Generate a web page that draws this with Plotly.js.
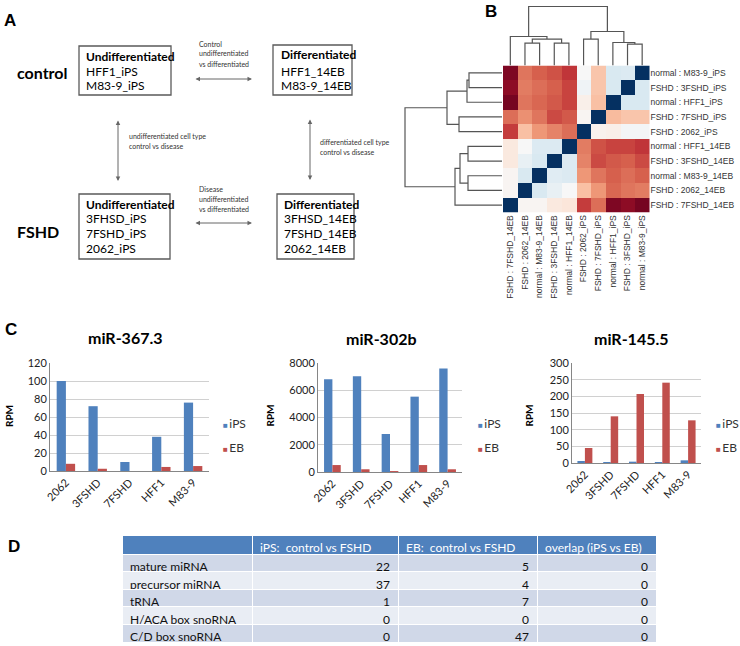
<!DOCTYPE html>
<html><head><meta charset="utf-8">
<script src="https://cdn.plot.ly/plotly-3.0.1.min.js"></script>
<style>html,body{margin:0;padding:0;background:#fff}#chart{width:740px;height:646px}</style>
</head><body><div id="chart"></div>
<script>
// ---------- DATA ----------
// Panel C
const samples = ['2062','3FSHD','7FSHD','HFF1','M83-9'];
const mir367_iPS = [100, 72, 10, 38, 76];
const mir367_EB  = [8, 2.5, 0, 4.5, 5.5];
const mir302_iPS = [6800, 7030, 2790, 5530, 7600];
const mir302_EB  = [510, 200, 70, 510, 200];
const mir145_iPS = [6, 3, 4, 3, 8];
const mir145_EB  = [45, 140, 207, 241, 128];
const chartTitles = ['miR-367.3','miR-302b','miR-145.5'];
const seriesNames = ['iPS','EB'];

// Panel B (distance heatmap, 0 = identical)
const hmCols = ['FSHD : 7FSHD_14EB','FSHD : 2062_14EB','normal : M83-9_14EB','FSHD : 3FSHD_14EB','normal : HFF1_14EB',
                'FSHD : 2062_iPS','FSHD : 7FSHD_iPS','normal : HFF1_iPS','FSHD : 3FSHD_iPS','normal : M83-9_iPS'];
const hmRows = ['normal : M83-9_iPS','FSHD : 3FSHD_iPS','normal : HFF1_iPS','FSHD : 7FSHD_iPS','FSHD : 2062_iPS',
                'normal : HFF1_14EB','FSHD : 3FSHD_14EB','normal : M83-9_14EB','FSHD : 2062_14EB','FSHD : 7FSHD_14EB'];
const hmRow0 = [0.97,0.77,0.80,0.82,0.86,0.50,0.64,0.42,0.43,0.00];
const hmRow1 = [0.95,0.76,0.78,0.80,0.84,0.48,0.64,0.42,0.00,0.42];
const hmRow2 = [0.98,0.77,0.79,0.81,0.84,0.53,0.65,0.00,0.42,0.42];
const hmRow3 = [0.78,0.73,0.77,0.83,0.81,0.51,0.00,0.66,0.64,0.64];
const hmRow4 = [0.85,0.65,0.72,0.75,0.78,0.00,0.52,0.53,0.49,0.49];
const hmRow5 = [0.55,0.50,0.43,0.43,0.00,0.76,0.82,0.84,0.84,0.86];
const hmRow6 = [0.55,0.46,0.42,0.00,0.43,0.75,0.83,0.81,0.80,0.83];
const hmRow7 = [0.51,0.42,0.00,0.44,0.43,0.72,0.77,0.80,0.78,0.80];
const hmRow8 = [0.51,0.00,0.42,0.46,0.50,0.65,0.72,0.79,0.77,0.76];
const hmRow9 = [0.00,0.51,0.51,0.55,0.56,0.85,0.78,0.97,0.95,0.98];
// dendrogram merges: [childA, childB, height]; number = leaf index, 'mK' = merge K
const colMerges = [[1,2,22.4],[3,4,22.4],['m0','m1',26.4],[0,'m2',29],[5,6,26.4],[8,9,21.4],[7,'m5',23],['m4','m6',34],['m3','m7',59]];
const rowMerges = [[0,1,33],['m0',2,35],[3,4,43],['m1','m2',55],[5,6,34],[7,8,34],['m4','m5',42],['m6',9,47],['m3','m7',97]];

// Panel D
const tableHeaders = ['', 'iPS:  control vs FSHD', 'EB:  control vs FSHD', 'overlap (iPS vs EB)'];
const tableRowLabels = ['mature miRNA','precursor miRNA','tRNA','H/ACA box snoRNA','C/D box snoRNA'];
const iPSCounts = [22, 37, 1, 0, 0];
const EBCounts = [5, 4, 7, 0, 47];
const overlapCounts = [0, 0, 0, 0, 0];

// Panel A
const groupLabels = ['control','FSHD'];
const ctrlUndiff = ['HFF1_iPS','M83-9_iPS'];
const ctrlDiff = ['HFF1_14EB','M83-9_14EB'];
const fshdUndiff = ['3FHSD_iPS','7FSHD_iPS','2062_iPS'];
const fshdDiff = ['3FHSD_14EB','7FSHD_14EB','2062_14EB'];
const cmpTopLines = ['Control','undifferentiated','vs differentiated'];
const cmpBottomLines = ['Disease','undifferentiated','vs differentiated'];
const cmpLeftLines = ['undifferentiated cell type','control vs disease'];
const cmpRightLines = ['differentiated cell type','control vs disease'];

// ---------- HELPERS ----------
const W = 740, H = 646;
const X = p => p / W, Y = p => 1 - p / H;
const FONT = 'Lato, "Open Sans", sans-serif';
const BLUE = '#4F81BD', RED = '#C0504D';

function dendro(merges) {
  const pos = {}, hgt = {};
  const P = c => typeof c === 'number' ? c : pos[c];
  const Hh = c => typeof c === 'number' ? 0 : hgt[c];
  const a = [], b = [];
  merges.forEach((m, k) => {
    const [ca, cb, h] = m;
    const pa = P(ca), pb = P(cb);
    a.push(pa, pa, pb, pb, null);
    b.push(Hh(ca), h, h, Hh(cb), null);
    pos['m' + k] = (pa + pb) / 2; hgt['m' + k] = h;
  });
  return {pos: a, h: b};
}

const traces = [];
const barSets = [[mir367_iPS, mir367_EB], [mir302_iPS, mir302_EB], [mir145_iPS, mir145_EB]];
barSets.forEach((s, i) => {
  const ax = i === 0 ? '' : String(i + 1);
  [BLUE, RED].forEach((c, j) => traces.push({
    type: 'bar', x: samples, y: s[j], name: seriesNames[j], marker: {color: c},
    xaxis: 'x' + ax, yaxis: 'y' + ax, showlegend: false, hoverinfo: 'x+y+name'
  }));
});

traces.push({
  type: 'heatmap', z: [hmRow0,hmRow1,hmRow2,hmRow3,hmRow4,hmRow5,hmRow6,hmRow7,hmRow8,hmRow9],
  x: hmCols, y: hmRows, xaxis: 'x4', yaxis: 'y4', zmin: 0, zmax: 1, showscale: false,
  colorscale: [[0,'#053061'],[0.1,'#2166AC'],[0.2,'#4393C3'],[0.3,'#92C5DE'],[0.4,'#D1E5F0'],[0.5,'#F7F7F7'],
               [0.6,'#FDDBC7'],[0.7,'#F4A582'],[0.8,'#D6604D'],[0.9,'#B2182B'],[1,'#67001F']]
});
const cd = dendro(colMerges), rd = dendro(rowMerges);
traces.push({type: 'scatter', mode: 'lines', x: cd.pos, y: cd.h, xaxis: 'x5', yaxis: 'y5',
  line: {color: '#555', width: 1.2}, showlegend: false, hoverinfo: 'skip'});
traces.push({type: 'scatter', mode: 'lines', x: rd.h, y: rd.pos, xaxis: 'x6', yaxis: 'y6',
  line: {color: '#555', width: 1.2}, showlegend: false, hoverinfo: 'skip'});

const fillCol = tableRowLabels.map((_, i) => i % 2 === 0 ? '#D0D8E8' : '#E9EDF4');
traces.push({
  type: 'table', domain: {x: [X(122), X(656)], y: [Y(642), Y(535)]},
  columnwidth: [130, 146, 139, 119],
  header: {values: tableHeaders, align: 'left', height: 19, fill: {color: BLUE},
    font: {family: FONT, size: 12, color: '#fff'}, line: {color: '#fff', width: 1}},
  cells: {values: [tableRowLabels, iPSCounts, EBCounts, overlapCounts], align: ['left','right','right','right'],
    height: 17.6, fill: {color: [fillCol, fillCol, fillCol, fillCol]},
    font: {family: FONT, size: 12, color: '#111'}, line: {color: '#fff', width: 1}}
});

// ---------- LAYOUT ----------
const tickF = {family: FONT, size: 11, color: '#222'};
function barX(d0, d1, anchor) {
  return {domain: [X(d0), X(d1)], anchor: anchor, type: 'category', showgrid: false, showline: true,
    linecolor: '#868686', linewidth: 1, tickangle: -45, tickfont: tickF, ticks: '', zeroline: false, fixedrange: true};
}
function barY(top, bottom, anchor, max, dtick) {
  return {domain: [Y(bottom), Y(top)], anchor: anchor, range: [0, max], dtick: dtick, showgrid: true,
    gridcolor: '#D0D0D0', gridwidth: 1, showline: true, linecolor: '#868686', linewidth: 1,
    zeroline: false, tickfont: tickF, ticks: '', fixedrange: true};
}
const hidden = {visible: false, showgrid: false, zeroline: false, fixedrange: true};
const hmTick = {family: '"Liberation Sans", Arial, sans-serif', size: 8.5, color: '#333'};

const annotations = [];
const shapes = [];
function txt(x, y, t, size, opts) {
  annotations.push(Object.assign({xref: 'paper', yref: 'paper', x: X(x), y: Y(y), text: t, showarrow: false,
    xanchor: 'left', yanchor: 'middle', font: {family: FONT, size: size, color: '#000'}}, opts || {}));
}
function arrow(x0, y0, x1, y1) {
  annotations.push({xref: 'paper', yref: 'paper', x: X(x1), y: Y(y1), ax: x0 - x1, ay: y0 - y1, axref: 'pixel', ayref: 'pixel',
    text: '', showarrow: true, arrowside: 'end+start', arrowhead: 2, startarrowhead: 2, arrowsize: 0.9, startarrowsize: 0.9,
    arrowwidth: 1, arrowcolor: '#666'});
}
function box(x0, y0, x1, y1) {
  shapes.push({type: 'rect', xref: 'paper', yref: 'paper', x0: X(x0), x1: X(x1), y0: Y(y1), y1: Y(y0),
    line: {color: '#5a5a5a', width: 1.3}, fillcolor: 'rgba(0,0,0,0)'});
}
const LET = {family: '"Liberation Sans", Arial, sans-serif', size: 17, color: '#000'};

// panel letters
txt(2, 20, '<b>A</b>', 17, {font: LET});
txt(483, 12, '<b>B</b>', 17, {font: LET});
txt(3, 329, '<b>C</b>', 17, {font: LET});
txt(6, 546, '<b>D</b>', 17, {font: LET});

// Panel A
txt(15, 73, '<b>' + groupLabels[0] + '</b>', 16);
txt(15, 232, '<b>' + groupLabels[1] + '</b>', 16);
box(79, 46, 171, 95); box(273, 45, 352, 95); box(79, 194, 170, 259); box(277, 194, 354, 259);
txt(84, 56, '<b>Undifferentiated</b>', 12);
ctrlUndiff.forEach((t, i) => txt(84, 71 + i * 14.7, t, 12));
txt(279, 55, '<b>Differentiated</b>', 12);
ctrlDiff.forEach((t, i) => txt(279, 71 + i * 14.7, t, 12));
txt(84, 204, '<b>Undifferentiated</b>', 12);
fshdUndiff.forEach((t, i) => txt(84, 219 + i * 14.7, t, 12));
txt(282, 204, '<b>Differentiated</b>', 12);
fshdDiff.forEach((t, i) => txt(282, 219 + i * 14.7, t, 12));
const small = (x, y, t) => txt(x, y, t, 7, {font: {family: FONT, size: 7, color: '#333'}});
cmpTopLines.forEach((t, i) => small(197, 43.5 + i * 10, t));
cmpBottomLines.forEach((t, i) => small(197, 189 + i * 10, t));
cmpLeftLines.forEach((t, i) => small(127, 136 + i * 10.5, t));
cmpRightLines.forEach((t, i) => small(318, 142 + i * 10, t));
arrow(194, 79, 252, 79);
arrow(194, 223, 252, 223);
arrow(118, 119, 118, 181);
arrow(310, 118, 310, 180);

// Panel C titles, RPM labels, legends
[[125, 337], [382, 339], [631.5, 338]].forEach((p, i) =>
  txt(p[0], p[1], '<b>' + chartTitles[i] + '</b>', 16, {xanchor: 'center'}));
[9, 269.5, 528.5].forEach(x => txt(x, 416, '<b>RPM</b>', 10, {xanchor: 'center', textangle: -90}));
[221, 475.5, 714].forEach(x => {
  txt(x, 423, '<span style="color:' + BLUE + ';font-size:8px">■</span>\u2009' + seriesNames[0], 12, {font: {family: FONT, size: 12, color: '#333'}});
  txt(x, 447, '<span style="color:' + RED + ';font-size:8px">■</span>\u2009' + seriesNames[1], 12, {font: {family: FONT, size: 12, color: '#333'}});
});

const layout = {
  width: W, height: H, margin: {l: 0, r: 0, t: 0, b: 0}, paper_bgcolor: '#fff', plot_bgcolor: '#fff',
  barmode: 'group', bargap: 0.42, bargroupgap: 0, showlegend: false, font: {family: FONT},
  xaxis: barX(50, 209, 'y'), yaxis: barY(363, 471, 'x', 120, 20),
  xaxis2: barX(318, 462, 'y2'), yaxis2: barY(363, 472, 'x2', 8000, 2000),
  xaxis3: barX(572, 701, 'y3'), yaxis3: barY(363, 463, 'x3', 300, 50),
  xaxis4: {domain: [X(503), X(649.5)], anchor: 'y4', type: 'category', tickangle: -90, tickfont: hmTick,
    ticks: '', showgrid: false, zeroline: false, showline: false, fixedrange: true},
  yaxis4: {domain: [Y(212.5), Y(65.5)], anchor: 'x4', type: 'category', side: 'right', autorange: 'reversed',
    tickfont: hmTick, ticks: '', showgrid: false, zeroline: false, showline: false, fixedrange: true},
  xaxis5: Object.assign({domain: [X(503), X(649.5)], anchor: 'y5', range: [-0.5, 9.5]}, hidden),
  yaxis5: Object.assign({domain: [Y(65.5), Y(4.5)], anchor: 'x5', range: [0, 61]}, hidden),
  xaxis6: Object.assign({domain: [X(402), X(502)], anchor: 'y6', range: [100, 0]}, hidden),
  yaxis6: Object.assign({domain: [Y(212.5), Y(65.5)], anchor: 'x6', range: [9.5, -0.5]}, hidden),
  annotations: annotations, shapes: shapes
};
Plotly.newPlot('chart', traces, layout, {displayModeBar: false, staticPlot: true});
</script>
</body></html>
